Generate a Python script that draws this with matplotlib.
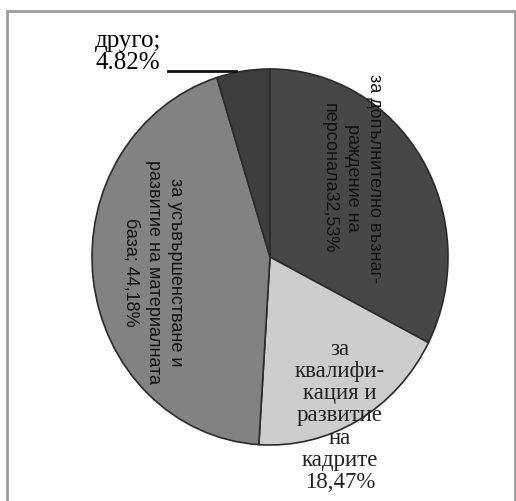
import matplotlib.pyplot as plt
from matplotlib.lines import Line2D
from matplotlib.patches import Rectangle

# data
labels = ["за допълнително възнаг-\nраждение на\nперсонала32,53%",
          "за\nквалифи-\nкация и\nразвитие\nна\nкадрите\n18,47%",
          "за усъвършенстване и\nразвитие на материалната\nбаза; 44,18%",
          "друго;\n4.82%"]
shares = [32.53, 18.47, 44.18, 4.82]
colors = ["#474747", "#cdcdcd", "#828282", "#3e3e3e"]

W, H = 516, 501
fig = plt.figure(figsize=(W / 100, H / 100), dpi=100)


def px(x, y):
    return x / W, 1 - y / H


# outer frame
fig.add_artist(Rectangle(px(7, 505), 508 / W, 494 / H, transform=fig.transFigure,
                         fill=False, edgecolor="#9c9c9c", linewidth=2))

# pie stretched into an ellipse: centre (270, 257) px, radii 178 x 188 px
cx, cy, rx, ry = 270, 257, 178, 188
lim = 1.05
l, b = px(cx - lim * rx, cy + lim * ry)
ax = fig.add_axes([l, b, 2 * lim * rx / W, 2 * lim * ry / H])
ax.pie(shares, colors=colors, startangle=90, counterclock=False,
       wedgeprops=dict(edgecolor="#2a2a2a", linewidth=1.2))
ax.set_aspect("auto")
ax.set_xlim(-lim, lim)
ax.set_ylim(-lim, lim)
ax.axis("off")

sans = "Liberation Sans"
serif = "Liberation Serif"

fig.text(*px(352, 178), labels[0], rotation=270, ha="center", va="center",
         multialignment="center", fontsize=13, family=sans, linespacing=1.45,
         color="#111111")
fig.text(*px(153, 272), labels[2], rotation=270, ha="center", va="center",
         multialignment="center", fontsize=13, family=sans, linespacing=1.4,
         color="#111111")
fig.text(*px(340, 416), labels[1], ha="center", va="center",
         multialignment="center", fontsize=16.5, family=serif, linespacing=1.08,
         color="#222222")
fig.text(*px(95, 52), labels[3], ha="left", va="center",
         multialignment="left", fontsize=18, family=serif, linespacing=1.0,
         color="#000000")

# leader line for "друго"
x0, y0 = px(168, 71)
x1, y1 = px(236, 71)
fig.add_artist(Line2D([x0, x1], [y0, y1], transform=fig.transFigure,
                      color="#111111", linewidth=2))

fig.savefig("out.png", dpi=100)
